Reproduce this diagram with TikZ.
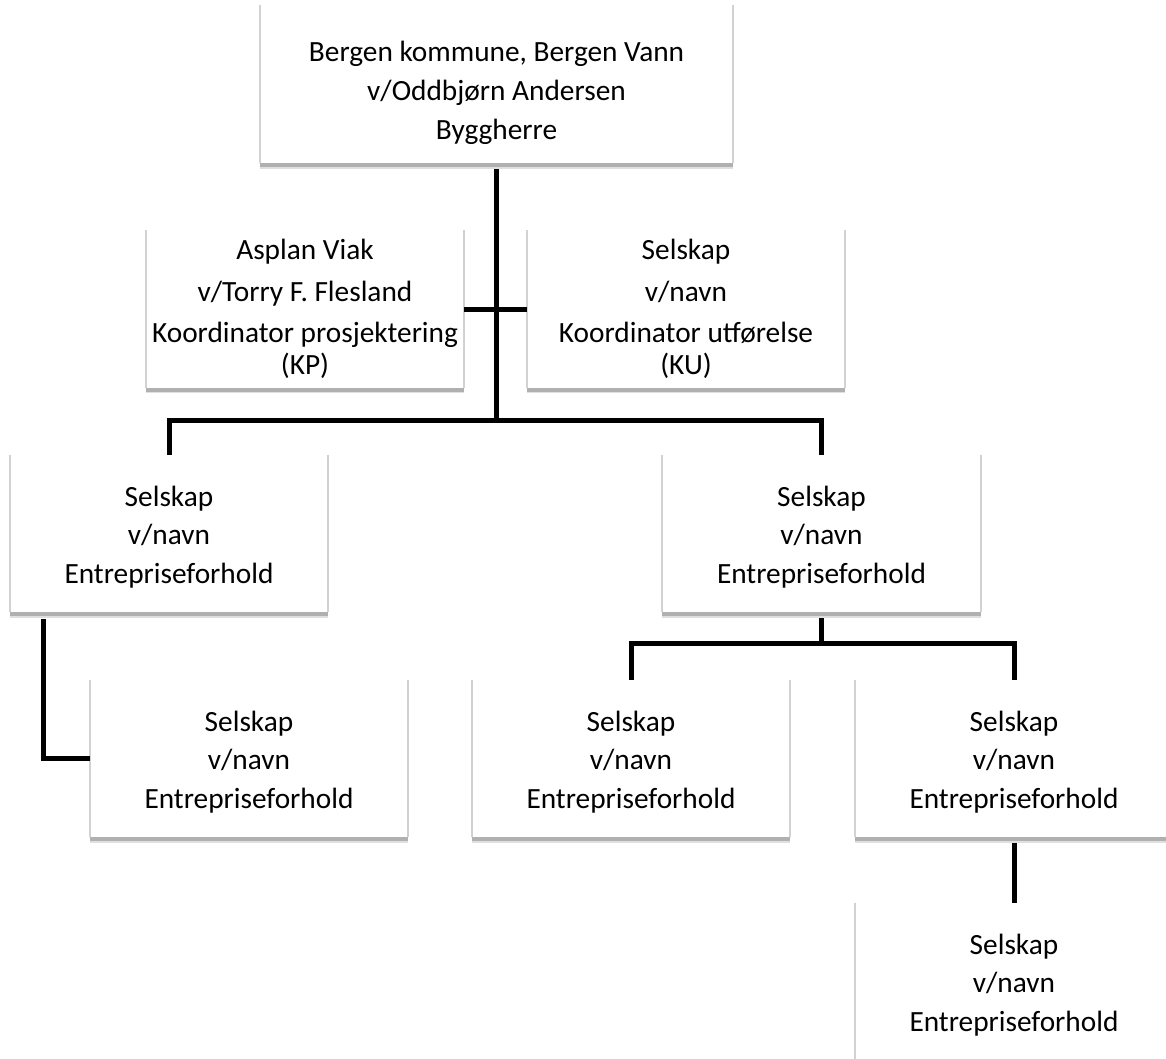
\documentclass[tikz,border=0pt]{standalone}
\usepackage{fontspec}
\setmainfont{Carlito}
\begin{document}
\begin{tikzpicture}[x=0.75pt,y=-0.75pt,
  conn/.style={line width=3.75pt, black, line cap=butt, line join=miter},
  orgbox/.style={fill=white, inner sep=0pt,
    minimum width=238.5pt, minimum height=117.75pt},
  sideln/.style={line width=1.2pt, gray!35},
  botln/.style={line width=3.3pt, gray!62},
  botlt/.style={line width=1.2pt, gray!25},
  txt/.style={align=center, inner sep=0pt, font=\fontsize{22}{24}\selectfont}]
\useasboundingbox (0,0) rectangle (1166,1059);
\fill[white] (0,0) rectangle (1166,1059);
\newcommand{\boxedges}[1]{%
  \draw[sideln] (#1.north west) -- (#1.south west);
  \draw[sideln] (#1.north east) -- (#1.south east);
  \draw[botlt] ([yshift=-3.6pt]#1.south west) -- ([yshift=-3.6pt]#1.south east);
  \draw[botln] ([yshift=-1.5pt]#1.south west) -- ([yshift=-1.5pt]#1.south east);}
% boxes
\node[orgbox, minimum width=354.75pt, minimum height=118.5pt] (top) at (496.5,84) {};
\node[orgbox, minimum width=237.75pt] (asp) at (305,309) {};
\node[orgbox] (ku) at (686,309) {};
\node[orgbox] (e1) at (169,533.5) {};
\node[orgbox] (e2) at (821.5,533.5) {};
\node[orgbox] (e3) at (249,758.5) {};
\node[orgbox] (e4) at (631,758.5) {};
\node[orgbox] (e5) at (1014,758.5) {};
\node[orgbox] (e6) at (1014,981.5) {};
\foreach \n in {top,asp,ku,e1,e2,e3,e4,e5,e6} {\boxedges{\n}}
% texts
\node[txt] (toptxt) at ([yshift=-6.75pt]top.center) {Bergen kommune, Bergen Vann\\[5pt]v/Oddbjørn Andersen\\[5pt]Byggherre};
\node[txt] (asptxt) at (asp.center) {Asplan Viak\\[7pt]v/Torry F. Flesland\\[7pt]Koordinator prosjektering\\(KP)};
\node[txt] (kutxt) at (ku.center) {Selskap\\[7pt]v/navn\\[7pt]Koordinator utførelse\\(KU)};
\foreach \n in {e1,e2,e3,e4,e5,e6}
  \node[txt] (\n txt) at ([yshift=-2.6pt]\n.center) {Selskap\\[5pt]v/navn\\[5pt]Entrepriseforhold};
% connectors
\coordinate (j1) at (496.5,420);
\coordinate (j2) at (821.5,643);
\coordinate (e1s) at (43,613);
\draw[conn] ([yshift=-4.5pt]top.south) -- (j1);
\draw[conn] (asp.east) -- (ku.west);
\draw[conn] (e1.north) |- (j1) -| (e2.north);
\draw[conn] ([yshift=-4.5pt]e1s) |- (e3.west);
\draw[conn] ([yshift=-4.5pt]e2.south) -- (j2);
\draw[conn] (e4.north) |- (j2) -| (e5.north);
\draw[conn] ([yshift=-4.5pt]e5.south) -- (e6.north);
\end{tikzpicture}
\end{document}
